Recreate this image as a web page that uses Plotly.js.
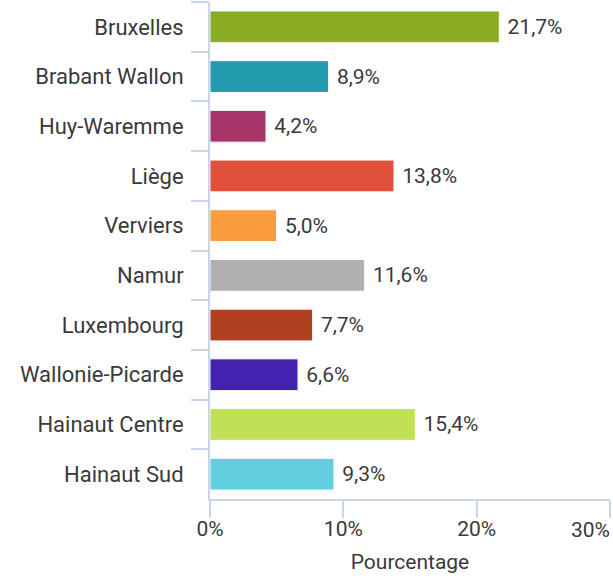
<!DOCTYPE html>
<html>
<head>
<meta charset="utf-8">
<script src="https://cdn.plot.ly/plotly-3.0.1.min.js"></script>
<style>html,body{margin:0;padding:0;background:#fff}#chart{width:613px;height:578px}</style>
</head>
<body>
<div id="chart"></div>
<script>
const categories = ["Bruxelles","Brabant Wallon","Huy-Waremme","Liège","Verviers","Namur","Luxembourg","Wallonie-Picarde","Hainaut Centre","Hainaut Sud"];
const values = [21.7, 8.9, 4.2, 13.8, 5.0, 11.6, 7.7, 6.6, 15.4, 9.3];
const colors = ["#8aac22","#219bad","#a6356a","#e0503a","#f99d3e","#b0b0b0","#b0401f","#4422b0","#c2e055","#62cfe0"];
const xTicks = [0, 10, 20, 30];
const xTickLabels = ["0%", "10%", "20%", "30%"];
const xTitle = "Pourcentage";

const axisColor = "#ccd6eb";
const textColor = "#3a3a3a";
const fontFamily = "Roboto, sans-serif";

const trace = {
  type: "bar",
  orientation: "h",
  y: categories,
  x: values,
  marker: {color: colors, line: {color: "#ffffff", width: 1}},
  texttemplate: "\u00a0%{x:.1f}%",
  textposition: "outside",
  constraintext: "none",
  cliponaxis: false,
  textfont: {family: fontFamily, size: 21, color: textColor},
  hoverinfo: "none"
};

// last tick label is drawn right-aligned at its tick so it stays inside the page
const lastIdx = xTicks.length - 1;
const shownTickText = xTickLabels.map((t, i) => i === lastIdx ? "" : t);

const layout = {
  width: 613, height: 578,
  margin: {l: 210, r: 3, t: 2, b: 79},
  separators: ", ",
  paper_bgcolor: "#ffffff", plot_bgcolor: "#ffffff",
  font: {family: fontFamily, color: textColor, size: 21},
  bargap: 0.36,
  showlegend: false,
  xaxis: {
    range: [0, 30],
    tickmode: "array",
    tickvals: xTicks,
    ticktext: shownTickText,
    showgrid: false, zeroline: false,
    showline: true, linecolor: axisColor, linewidth: 2,
    ticks: "outside", ticklen: 17, tickcolor: axisColor, tickwidth: 2,
    tickfont: {size: 21, color: textColor},
    ticklabelstandoff: -7,
    title: {text: xTitle, font: {size: 21, color: textColor}, standoff: 14}
  },
  yaxis: {
    type: "category",
    categoryorder: "array", categoryarray: categories,
    autorange: "reversed",
    tickson: "boundaries",
    showgrid: false, zeroline: false,
    showline: true, linecolor: axisColor, linewidth: 2,
    ticks: "outside", ticklen: 17, tickcolor: axisColor, tickwidth: 2,
    tickfont: {size: 22, color: textColor},
    ticklabelstandoff: 20
  },
  annotations: [{
    x: xTicks[lastIdx], xref: "x",
    y: 0, yref: "paper",
    text: xTickLabels[lastIdx],
    showarrow: false,
    xanchor: "right", yanchor: "top",
    xshift: 2, yshift: -17,
    font: {family: fontFamily, size: 21, color: textColor}
  }]
};

Plotly.newPlot("chart", [trace], layout, {displayModeBar: false, staticPlot: true});
</script>
</body>
</html>
